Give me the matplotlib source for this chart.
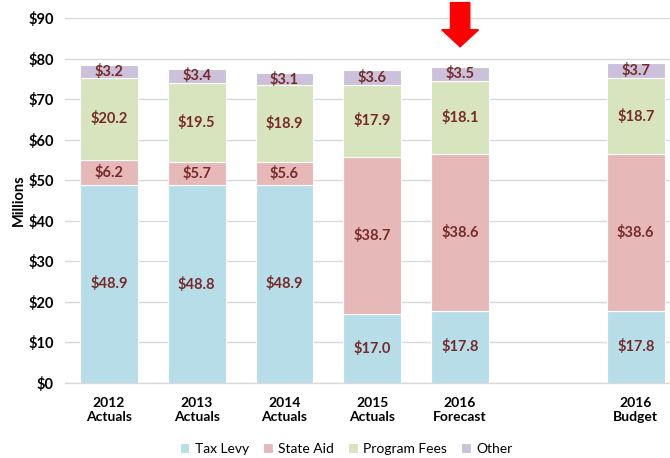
import matplotlib
matplotlib.use("Agg")
import matplotlib.pyplot as plt
import numpy as np
from matplotlib.patches import FancyArrow

plt.rcParams['font.family'] = ['Lato', 'DejaVu Sans']

categories = ["2012\nActuals", "2013\nActuals", "2014\nActuals", "2015\nActuals", "2016\nForecast", "2016\nBudget"]
positions = [0, 1, 2, 3, 4, 6]
series_names = ["Tax Levy", "State Aid", "Program Fees", "Other"]
tax_levy = [48.9, 48.8, 48.9, 17.0, 17.8, 17.8]
state_aid = [6.2, 5.7, 5.6, 38.7, 38.6, 38.6]
program_fees = [20.2, 19.5, 18.9, 17.9, 18.1, 18.7]
other = [3.2, 3.4, 3.1, 3.6, 3.5, 3.7]
colors = ["#B7DEE8", "#E6B9B8", "#D7E4BD", "#CCC1DA"]
yticks = [0, 10, 20, 30, 40, 50, 60, 70, 80, 90]

fig = plt.figure(figsize=(6.7, 4.58), dpi=100)
ax = fig.add_axes([65/670, 1-383/458, 605/670, 365/458])

bottom = np.zeros(len(positions))
label_color = "#772A2A"
for name, vals, c in zip(series_names, [tax_levy, state_aid, program_fees, other], colors):
    vals = np.array(vals)
    ax.bar(positions, vals, bottom=bottom, width=0.66, color=c, label=name,
           edgecolor='white', linewidth=0.8, zorder=3)
    for x, b, v in zip(positions, bottom, vals):
        ax.text(x, b + v/2, f"${v:.1f}", ha='center', va='center',
                fontsize=10.5, fontweight='bold', color=label_color, zorder=4)
    bottom += vals

ax.set_ylim(0, 90)
ax.set_xlim(-0.5, 6.39)
ax.set_yticks(yticks)
ax.set_yticklabels([f"${v}" for v in yticks], fontsize=10.5, fontweight='bold')
ax.set_xticks(positions)
ax.set_xticklabels(categories, fontsize=10, fontweight='bold')
ax.tick_params(axis='both', length=0, pad=8)
ax.tick_params(axis='x', pad=10)
ax.yaxis.grid(True, color='#D9D9D9', linewidth=1, zorder=0)
for s in ['top', 'right', 'left']:
    ax.spines[s].set_visible(False)
ax.spines['bottom'].set_color('#D9D9D9')
ax.spines['bottom'].set_linewidth(1)
ax.set_ylabel("Millions", fontsize=10.5, fontweight='bold', labelpad=2)

# red arrow above 2016 Forecast
arrow = FancyArrow(4, 93.8, 0, -93.8 + 82.9, width=0.22, head_width=0.42,
                   head_length=4.2, length_includes_head=True,
                   color='#FF0000', clip_on=False, zorder=5)
ax.add_patch(arrow)

fig.legend(loc='center', bbox_to_anchor=(346/670, 1-449/458), ncol=4,
           frameon=False, fontsize=10, handlelength=0.7, handleheight=0.7,
           columnspacing=1.0, handletextpad=0.4)

fig.savefig("out.png", dpi=100)
